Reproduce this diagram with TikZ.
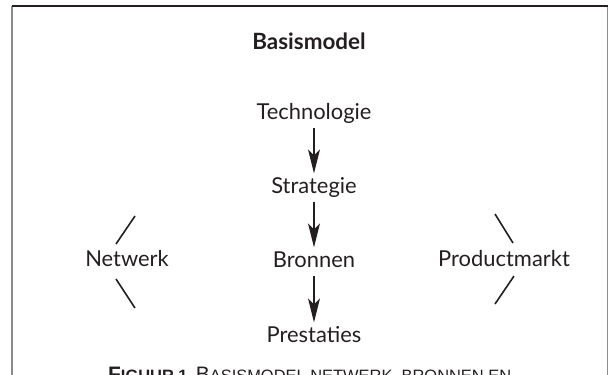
\documentclass[tikz,border=0pt]{standalone}
\usepackage{fontspec}
\setmainfont{Lato}
\setsansfont{Liberation Sans}
\usetikzlibrary{arrows.meta}
\definecolor{FigText}{RGB}{35, 31, 32}
\definecolor{FrameGray}{RGB}{140, 140, 140}

\begin{document}
\begin{tikzpicture}[x=1bp, y=-1bp,
    term/.style={anchor=base, inner sep=3.5bp, text=FigText, font=\fontsize{22}{26}\selectfont,
                 text height=16bp, text depth=5bp},
    flow/.style={-{Stealth[length=24bp, width=12bp, inset=6bp]}, line width=1.2bp, FigText},
    tick/.style={line width=1.6bp, FigText}]
    \useasboundingbox (0,0) rectangle (609,374);
    \clip (0,0) rectangle (609,374);

    % Frame
    \draw[FrameGray, line width=1.6bp] (12,400) -- (12,6);
    \draw[FrameGray, line width=1.4bp] (607.5,6) -- (607.5,400);
    \draw[FigText, line width=1.2bp] (12,6) -- (607.5,6);

    % Title
    \node[anchor=base, text=FigText, font=\fontsize{22.5}{26}\selectfont\bfseries] (title) at (309,49) {Basismodel};

    % Middle column
    \node[term] (tech) at (314,119) {Technologie};
    \node[term] (strat) at (314,193) {Strategie};
    \node[term] (bron) at (314,267) {Bronnen};
    \node[term] (prest) at (314,342) {Prestaties};

    % Sides
    \node[term] (netw) at (127,266) {Netwerk};
    \node[term] (prod) at (504,266) {Productmarkt};

    % Arrows
    \draw[flow] (tech) -- (strat);
    \draw[flow] (strat) -- (bron);
    \draw[flow] (bron) -- (prest);

    % Ticks
    \coordinate (nwa) at (135,216);
    \coordinate (nwb) at (116,244);
    \coordinate (nwc) at (116,279);
    \coordinate (nwd) at (135,308);
    \coordinate (pma) at (495,214);
    \coordinate (pmb) at (513,243);
    \coordinate (pmc) at (514,276);
    \coordinate (pmd) at (495,304);
    \draw[tick] (nwa) -- (nwb);
    \draw[tick] (nwc) -- (nwd);
    \draw[tick] (pma) -- (pmb);
    \draw[tick] (pmc) -- (pmd);

    % Caption
    \node[anchor=base west, inner sep=0pt, text=FigText, font=\sffamily\fontsize{16.5}{20}\selectfont] (caption) at (108,381)
        {\textbf{{\fontsize{21}{24}\selectfont F}IGUUR 1}\enspace {\fontsize{21}{24}\selectfont B}ASISMODEL NETWERK, BRONNEN EN};
\end{tikzpicture}
\end{document}
